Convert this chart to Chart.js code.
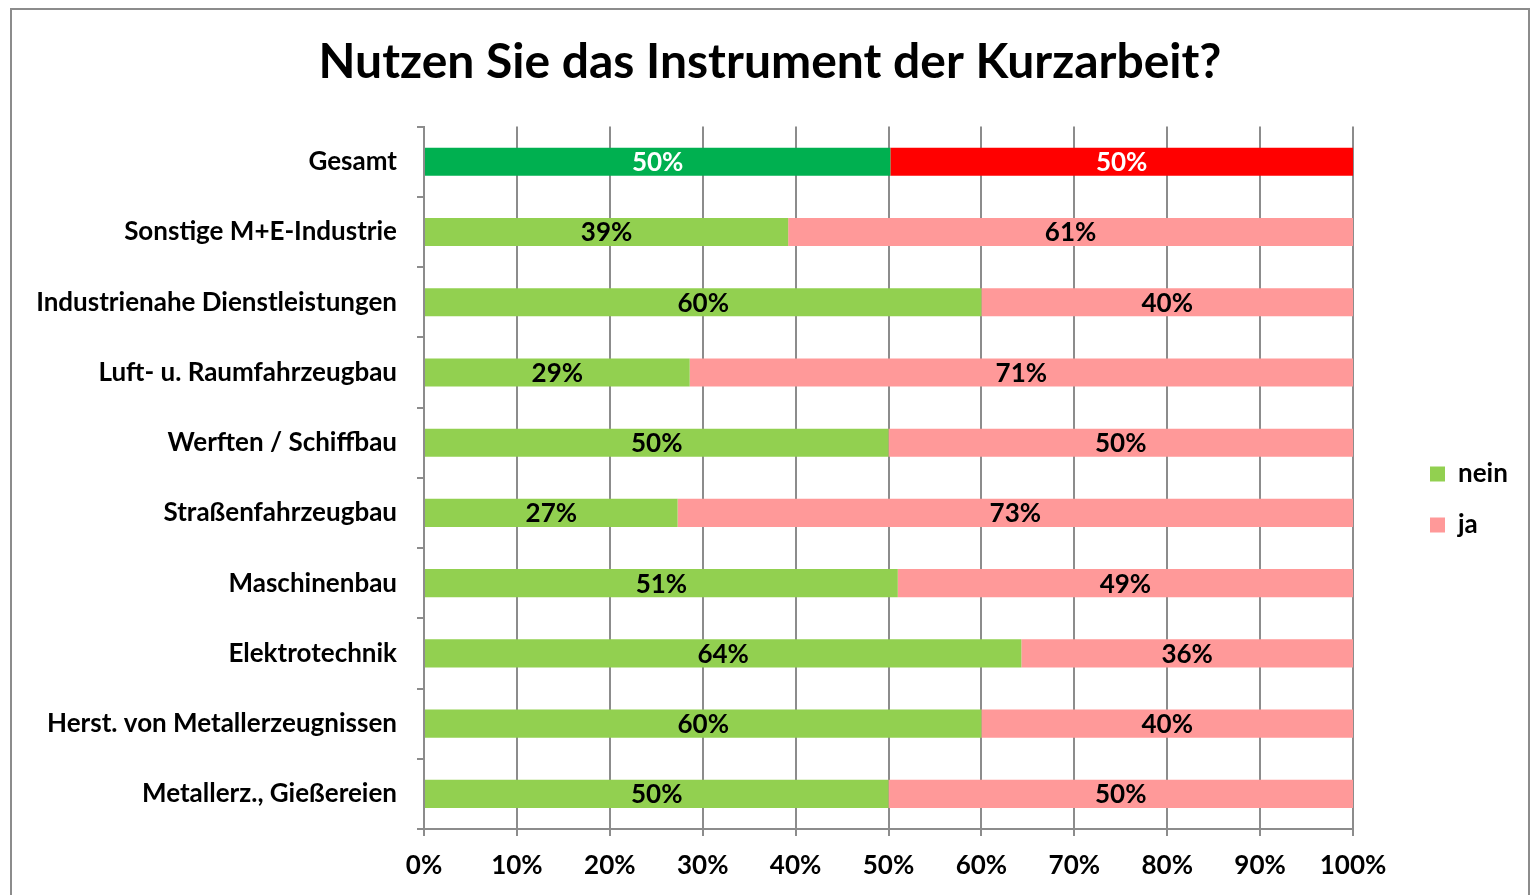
<!DOCTYPE html>
<html><head><meta charset="utf-8">
<script src="https://cdn.jsdelivr.net/npm/chart.js@4/dist/chart.umd.min.js"></script>
<style>
html,body{margin:0;padding:0;background:#fff;overflow:hidden;}
#frame{position:absolute;left:10px;top:8px;width:1520px;height:900px;border:2px solid #8c8c8c;box-sizing:border-box;background:#fff;}
#wrap{position:absolute;left:0;top:0;width:1516px;height:885px;}
</style></head>
<body>
<div id="frame"><div id="wrap"><canvas id="c"></canvas></div></div>
<script>
const categories = ["Gesamt","Sonstige M+E-Industrie","Industrienahe Dienstleistungen","Luft- u. Raumfahrzeugbau","Werften / Schiffbau","Straßenfahrzeugbau","Maschinenbau","Elektrotechnik","Herst. von Metallerzeugnissen","Metallerz., Gießereien"];
const neinValues = [50.2, 39.2, 60.0, 28.6, 50.0, 27.3, 51.0, 64.3, 60.0, 50.0];
const jaValues   = [49.8, 60.8, 40.0, 71.4, 50.0, 72.7, 49.0, 35.7, 40.0, 50.0];
const xTicks = [0,10,20,30,40,50,60,70,80,90,100];
const seriesNames = ["nein","ja"];

const FONT = 'Lato';
const FS = 26;
const GRID = '#8c8c8c';
const neinColors = categories.map((c,i)=> i===0 ? '#00B050' : '#92D050');
const jaColors = categories.map((c,i)=> i===0 ? '#FF0000' : '#FF9999');

const labelPlugin = {
  id:'barLabels',
  afterDatasetsDraw(chart){
    const ctx = chart.ctx;
    ctx.save();
    ctx.font = 'bold ' + FS + 'px ' + FONT;
    ctx.textAlign = 'center';
    ctx.textBaseline = 'middle';
    chart.data.datasets.forEach((ds, di)=>{
      const meta = chart.getDatasetMeta(di);
      meta.data.forEach((el, i)=>{
        const v = ds.data[i];
        ctx.fillStyle = i===0 ? '#ffffff' : '#000000';
        ctx.fillText(Math.round(v)+'%', (el.x+el.base)/2, el.y+1);
      });
    });
    ctx.restore();
  }
};

const legendPlace = {
  id:'legendPlace',
  beforeInit(chart){
    const L = chart.legend;
    if (L && !L._patched) {
      const f = L.fit.bind(L);
      L.fit = function(){ f(); this.width = 123; };
      L._patched = true;
    }
  },
  afterLayout(chart){
    const L = chart.legend;
    if (L) { L.top += 47; L.bottom += 47; }
  }
};

new Chart(document.getElementById('c'), {
  type:'bar',
  data:{
    labels: categories,
    datasets:[
      {label: seriesNames[0], data: neinValues, backgroundColor: neinColors, legendColor:'#92D050'},
      {label: seriesNames[1], data: jaValues, backgroundColor: jaColors, legendColor:'#FF9999'}
    ]
  },
  options:{
    indexAxis:'y',
    responsive:true,
    maintainAspectRatio:false,
    animation:false,
    datasets:{bar:{categoryPercentage:1, barPercentage:0.4}},
    layout:{padding:{left:0,right:0,top:0,bottom:0}},
    plugins:{
      title:{display:true, text:'Nutzen Sie das Instrument der Kurzarbeit?', color:'#000', font:{family:FONT, size:48, weight:'bold'}, padding:{top:24,bottom:35}},
      legend:{
        position:'right',
        labels:{
          font:{family:FONT, size:FS, weight:'bold'}, color:'#000',
          boxWidth:15, boxHeight:15, padding:25,
          generateLabels(chart){
            return chart.data.datasets.map((ds,i)=>({text: ds.label, fillStyle: ds.legendColor, strokeStyle:'rgba(0,0,0,0)', lineWidth:0, datasetIndex:i, hidden:false}));
          }
        }
      },
      tooltip:{enabled:false}
    },
    scales:{
      x:{
        stacked:true, min:0, max:100,
        afterBuildTicks(s){ s.ticks = xTicks.map(v=>({value:v})); },
        ticks:{callback:(v)=>v+'%', color:'#000', font:{family:FONT, size:FS, weight:'bold'}, padding:14, maxRotation:0},
        grid:{color:GRID, lineWidth:2, tickLength:7, drawOnChartArea:true},
        border:{color:GRID, width:2},
        afterFit(s){ s.height = 66; }
      },
      y:{
        stacked:true,
        ticks:{color:'#000', font:{family:FONT, size:FS, weight:'bold'}, padding:20, autoSkip:false},
        grid:{offset:true, color:GRID, lineWidth:2, tickLength:7, drawOnChartArea:false},
        border:{color:GRID, width:2},
        afterFit(s){ s.width = 412; }
      },
      y2:{
        type:'linear', position:'right', display:true,
        ticks:{display:false}, grid:{display:false}, border:{display:false},
        afterFit(s){ s.width = 52; }
      }
    }
  },
  plugins:[labelPlugin, legendPlace]
});
</script>
</body></html>
